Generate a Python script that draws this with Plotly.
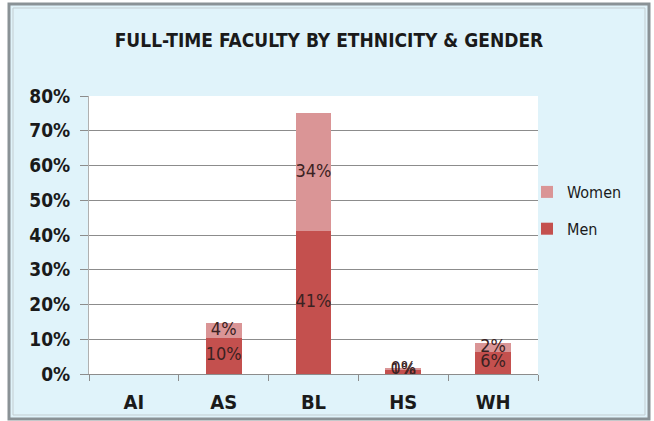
import plotly.graph_objects as go

categories = ["AI", "AS", "BL", "HS", "WH"]
men = [0.0, 10.5, 41.2, 1.2, 6.4]
women = [0.0, 4.2, 33.8, 0.4, 2.4]
y_ticks = [0, 10, 20, 30, 40, 50, 60, 70, 80]
y_tick_labels = [f"{v}%" for v in y_ticks]

MEN_COLOR = "#c4504e"
WOMEN_COLOR = "#da9596"
FONT = "DejaVu Sans Condensed, Liberation Sans Narrow, Liberation Sans, Arial"
TXT = "#1a1a1a"

W, H = 654, 421
ML, MR, MT, MB = 89, 116, 96, 47
PW, PH = W - ML - MR, H - MT - MB


def px(x):
    return (x - ML) / PW


def py(y):
    return (H - MB - y) / PH


fig = go.Figure()
fig.add_trace(go.Bar(x=categories, y=men, name="Men", marker_color=MEN_COLOR,
                     marker_line_width=0, legendgroup="m", legendrank=2, hoverinfo="skip"))
fig.add_trace(go.Bar(x=categories, y=women, name="Women", marker_color=WOMEN_COLOR,
                     marker_line_width=0, legendgroup="w", legendrank=1, hoverinfo="skip"))

# data labels centred in each segment
lx, ly, lt = [], [], []
for c, m, w in zip(categories, men, women):
    if m > 0:
        lx.append(c); ly.append(m / 2); lt.append(f"{round(m)}%")
    if w > 0:
        lx.append(c); ly.append(m + w / 2); lt.append(f"{round(w)}%")
fig.add_trace(go.Scatter(x=lx, y=ly, text=lt, mode="text", showlegend=False,
                         textfont=dict(family=FONT, size=18, color="#3a2222"),
                         hoverinfo="skip"))

shapes = [
    dict(type="rect", xref="paper", yref="paper", x0=px(9), x1=px(649), y0=py(4), y1=py(419),
         fillcolor="#e0f3fa", line=dict(color="#8a9296", width=3), layer="below"),
    dict(type="rect", xref="paper", yref="paper", x0=px(13), x1=px(645), y0=py(8), y1=py(415),
         fillcolor="rgba(0,0,0,0)", line=dict(color="#c3cdd1", width=1), layer="below"),
    dict(type="rect", xref="paper", yref="paper", x0=0, x1=1, y0=0, y1=1,
         fillcolor="white", line=dict(width=0), layer="below"),
]

fig.update_layout(
    width=W, height=H,
    margin=dict(l=ML, r=MR, t=MT, b=MB),
    paper_bgcolor="white", plot_bgcolor="white",
    barmode="stack", bargap=0.6,
    shapes=shapes,
    title=dict(text="<b>FULL-TIME FACULTY BY ETHNICITY &amp; GENDER</b>",
               xref="container", x=329 / W, xanchor="center", y=(H - 40) / H, yanchor="middle",
               font=dict(family=FONT, size=19, color=TXT)),
    legend=dict(x=px(527), y=py(175), xanchor="left", yanchor="top",
                traceorder="grouped", tracegroupgap=13,
                bgcolor="rgba(0,0,0,0)", itemwidth=30,
                font=dict(family=FONT, size=16, color=TXT)),
    font=dict(family=FONT, color=TXT),
)
fig.update_xaxes(showgrid=False, showline=True, linecolor="#8c8c8c", linewidth=1,
                 ticks="outside", tickson="boundaries", ticklen=6, tickcolor="#8c8c8c",
                 ticklabelstandoff=10, automargin=False,
                 tickfont=dict(family=FONT, size=20, color=TXT), tickprefix="<b>", ticksuffix="</b>")
fig.update_yaxes(range=[0, 80], tickvals=y_ticks, ticktext=[f"<b>{t}</b>" for t in y_tick_labels],
                 showgrid=True, gridcolor="#8c8c8c", gridwidth=1,
                 showline=True, linecolor="#b0b0b0", ticks="outside", ticklen=8,
                 tickcolor="#8c8c8c", zeroline=False, ticklabelstandoff=6, automargin=False,
                 tickfont=dict(family=FONT, size=19, color=TXT))

fig.write_html("out.html", config={"displayModeBar": False},
               post_script="document.body.style.margin='0';")
